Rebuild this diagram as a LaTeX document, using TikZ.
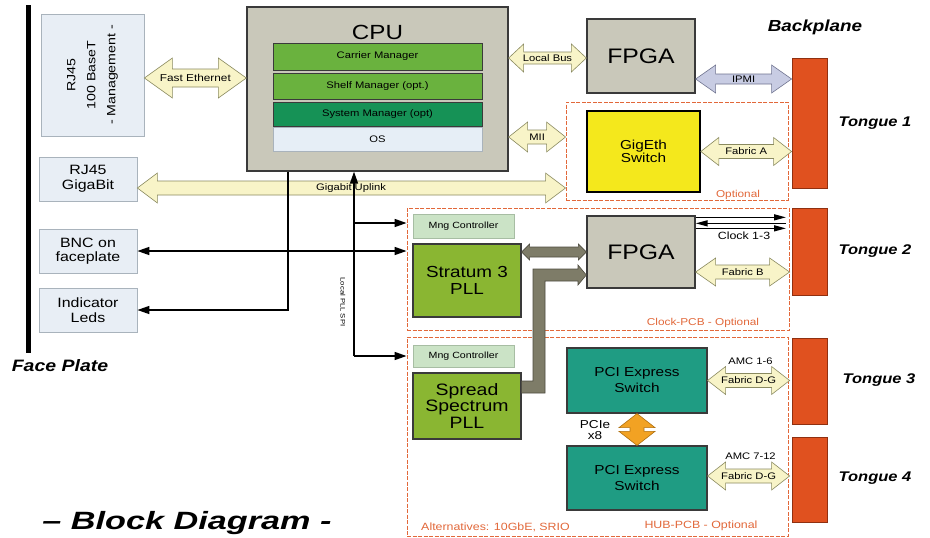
\documentclass[tikz,border=0pt]{standalone}
\usepackage{graphicx}
\usepackage{fontspec}
\setmainfont{Liberation Sans}[FakeStretch=1.18]
\usetikzlibrary{calc,arrows.meta}
\definecolor{lbfill}{HTML}{E8EEF5}
\definecolor{lbdraw}{HTML}{A9B3BC}
\definecolor{cpufill}{HTML}{C9C8BA}
\definecolor{cpudraw}{HTML}{3A3A3A}
\definecolor{carrierc}{HTML}{6AB23E}
\definecolor{systemc}{HTML}{169256}
\definecolor{osc}{HTML}{E6EEF6}
\definecolor{cream}{HTML}{F8F4C8}
\definecolor{creamd}{HTML}{8A8A60}
\definecolor{ipmic}{HTML}{C8CCE3}
\definecolor{ipmid}{HTML}{707490}
\definecolor{tonguec}{HTML}{E0511F}
\definecolor{tongued}{HTML}{903010}
\definecolor{dashc}{HTML}{E2683A}
\definecolor{yellowc}{HTML}{F4E81C}
\definecolor{olivec}{HTML}{8AB632}
\definecolor{mngc}{HTML}{CBE3C6}
\definecolor{mngd}{HTML}{A7BDA3}
\definecolor{tealc}{HTML}{1F9C83}
\definecolor{orangec}{HTML}{F2A223}
\definecolor{oranged}{HTML}{B07010}
\definecolor{bandc}{HTML}{7E7C68}
\definecolor{bandd}{HTML}{4E4C40}
\newcommand\fsz[2]{\fontsize{#1pt}{#2pt}\selectfont}
% horizontal double block arrow: #1 left, #2 right, #3 shaft half, #4 head half, #5 head length, #6 style, #7 label name, #8 label
\newcommand\harrow[8]{%
  \path[#6] let \p1=(#1), \p2=(#2) in
    (\x1,\y1) -- (\x1+#5pt,\y1+#4pt) -- (\x1+#5pt,\y1+#3pt) -- (\x2-#5pt,\y1+#3pt)
    -- (\x2-#5pt,\y1+#4pt) -- (\x2,\y1) -- (\x2-#5pt,\y1-#4pt) -- (\x2-#5pt,\y1-#3pt)
    -- (\x1+#5pt,\y1-#3pt) -- (\x1+#5pt,\y1-#4pt) -- cycle;
  \node[alab] (#7) at ($(#1)!0.5!(#2)$) {#8};}
% vertical double block arrow: #1 top, #2 bottom
\newcommand\varrow[6]{%
  \path[#6] let \p1=(#1), \p2=(#2) in
    (\x1,\y1) -- (\x1+#4pt,\y1-#5pt) -- (\x1+#3pt,\y1-#5pt) -- (\x1+#3pt,\y2+#5pt)
    -- (\x1+#4pt,\y2+#5pt) -- (\x1,\y2) -- (\x1-#4pt,\y2+#5pt) -- (\x1-#3pt,\y2+#5pt)
    -- (\x1-#3pt,\y1-#5pt) -- (\x1-#4pt,\y1-#5pt) -- cycle;}
\begin{document}
\begin{tikzpicture}[x=1pt,y=-1pt,
  box/.style={draw, inner sep=0pt, align=center, line width=0.8pt},
  lbox/.style={box, fill=lbfill, draw=lbdraw, font=\fsz{13.5}{14.5}},
  darkbox/.style={box, fill=cpufill, draw=cpudraw, line width=1.3pt},
  bar/.style={box, draw=cpudraw, line width=1pt, minimum width=209pt, font=\fsz{9.5}{10}},
  tongue/.style={box, fill=tonguec, draw=tongued, minimum width=35pt},
  dbox/.style={draw=dashc, line width=0.9pt, dash pattern=on 4pt off 1.5pt, inner sep=0pt},
  mng/.style={box, fill=mngc, draw=mngd, minimum width=101pt, font=\fsz{9}{9}},
  pll/.style={box, fill=olivec, draw=cpudraw, line width=1.2pt, minimum width=108pt, font=\fsz{16}{17}},
  teal/.style={box, fill=tealc, draw=cpudraw, line width=1.2pt, minimum width=140pt, font=\fsz{13}{16}},
  carrow/.style={fill=cream, draw=creamd, line width=0.6pt},
  alab/.style={inner sep=0pt, font=\fsz{9.5}{10}},
  olab/.style={inner sep=0pt, text=dashc, font=\fsz{10.5}{10.5}},
  title/.style={inner sep=0pt, font=\fsz{14}{14}\bfseries\itshape},
  wire/.style={line width=1.6pt, draw=black},
  cwire/.style={line width=1.4pt, draw=black},
  >={Triangle[length=12pt,width=8pt]}
]
\useasboundingbox[fill=white] (0,0) rectangle (930,538);

% face plate
\coordinate (fptop) at (28,5);
\coordinate (fpbot) at (28,353);
\draw[line width=5pt] (fptop) -- (fpbot);
\node[title, font=\fsz{16.5}{16.5}\bfseries\itshape] (fplab) at (60,366) {Face Plate};
\node[inner sep=0pt, font=\fsz{25}{25}\bfseries\itshape] (bdlab) at (187,523) {\scalebox{1.16}[1]{-- Block Diagram -}};

% left boxes
\node[lbox, minimum width=103pt, minimum height=122pt] (rj45m) at (92.5,75) {};
\node[inner sep=0pt, rotate=90, align=center, font=\fsz{12}{20}] (rj45mtxt) at (rj45m.center) {RJ45\\100 BaseT\\- Management -};
\node[lbox, minimum width=98pt, minimum height=44pt] (rj45g) at (88,179) {RJ45\\GigaBit};
\node[lbox, minimum width=98pt, minimum height=44pt] (bnc) at (88,251) {BNC on\\faceplate};
\node[lbox, minimum width=98pt, minimum height=44pt] (leds) at (88,310) {Indicator\\Leds};

% CPU
\node[darkbox, minimum width=261pt, minimum height=164pt] (cpu) at (377.5,89) {};
\node[inner sep=0pt, font=\fsz{20.5}{20.5}] (cputxt) at (377.5,32) {CPU};
\node[bar, fill=carrierc, minimum height=27pt] (carrier) at (377.5,56.5) {Carrier Manager};
\node[bar, fill=carrierc, minimum height=26pt] (shelf) at (377.5,86) {Shelf Manager (opt.)};
\node[bar, fill=systemc, minimum height=24pt] (system) at (377.5,114) {System Manager (opt)};
\node[bar, fill=osc, draw=lbdraw, line width=0.6pt, minimum height=24pt] (os) at (377.5,139) {OS};

% FPGA 1 and Tongue 1
\node[darkbox, minimum width=108pt, minimum height=74pt, font=\fsz{21}{21}] (fpga1) at (641,56) {FPGA};
\node[tongue, minimum height=130pt] (tongue1) at (809.5,123) {};
\node[title, font=\fsz{16}{16}\bfseries\itshape] (bplab) at (815,27) {Backplane};
\node[title] (t1lab) at (875,123) {Tongue 1};

% optional GigEth
\node[dbox, minimum width=222pt, minimum height=98pt] (opt1) at (677,151) {};
\node[olab, font=\fsz{10}{10}] (opt1lab) at (738,195) {Optional};
\node[box, fill=yellowc, draw=black, line width=1.6pt, minimum width=113pt, minimum height=81pt, font=\fsz{13}{13.5}] (gig) at (643.5,151.5) {GigEth\\Switch};

% Clock PCB
\node[dbox, minimum width=382pt, minimum height=122pt] (clk) at (598,269) {};
\node[olab, font=\fsz{10}{10}] (clklab) at (703,323) {Clock-PCB - Optional};
\node[mng, minimum height=24pt] (mng1) at (463.5,226) {Mng Controller};
\node[pll, minimum height=73pt] (stratum) at (467,280.5) {Stratum 3\\PLL};
\node[darkbox, minimum width=108pt, minimum height=72pt, font=\fsz{21}{21}] (fpga2) at (641,252) {FPGA};
\node[tongue, minimum height=87pt] (tongue2) at (809.5,251.5) {};
\node[title] (t2lab) at (875,251) {Tongue 2};

% HUB PCB
\node[dbox, minimum width=381pt, minimum height=199pt] (hub) at (597.5,436.5) {};
\node[olab] (altlab) at (495.5,527) {Alternatives: 10GbE, SRIO};
\node[olab] (hublab) at (701,526) {HUB-PCB - Optional};
\node[mng, minimum height=22pt] (mng2) at (463.5,356) {Mng Controller};
\node[pll, minimum height=66pt, font=\fsz{16.5}{16.7}] (ssp) at (467,406) {Spread\\Spectrum\\PLL};
\node[teal, minimum height=65pt] (pci1) at (637,380.5) {PCI Express\\Switch};
\node[teal, minimum height=64pt] (pci2) at (637,478) {PCI Express\\Switch};
\node[tongue, minimum height=86pt] (tongue3) at (809.5,381) {};
\node[tongue, minimum height=85pt] (tongue4) at (809.5,479.5) {};
\node[title] (t3lab) at (879,380) {Tongue 3};
\node[title] (t4lab) at (875,478) {Tongue 4};

% block arrows
\coordinate (fe1) at ([yshift=-3pt]rj45m.east);
\coordinate (fe2) at (cpu.west |- fe1);
\harrow{fe1}{fe2}{9}{20}{28}{carrow}{felab}{\fsz{10}{10}Fast Ethernet}

\coordinate (lb2) at ([yshift=-2pt]fpga1.west);
\coordinate (lb1) at (cpu.east |- lb2);
\harrow{lb1}{lb2}{6}{14}{15}{carrow}{lblab}{Local Bus}

\coordinate (ip1) at ([yshift=-23pt]fpga1.east);
\coordinate (ip2) at (tongue1.west |- ip1);
\harrow{ip1}{ip2}{5}{14}{20}{fill=ipmic, draw=ipmid, line width=0.6pt}{iplab}{IPMI}

\coordinate (mi1) at ([yshift=-48pt]cpu.east);
\coordinate (mi2) at (opt1.west |- mi1);
\harrow{mi1}{mi2}{7}{15}{19}{carrow}{milab}{MII}

\coordinate (gu1) at ([yshift=-9pt]rj45g.east);
\coordinate (gu2) at (opt1.west |- gu1);
\harrow{gu1}{gu2}{7}{15}{20}{carrow}{gulab0}{}
\node[alab] (gulab) at (351,188) {Gigabit Uplink};

\coordinate (fa1) at (gig.east);
\coordinate (fa2) at (tongue1.west |- fa1);
\harrow{fa1}{fa2}{7}{14}{18}{carrow}{falab}{Fabric A}

\coordinate (sf1) at (stratum.east |- fpga2.west);
\coordinate (sf2) at (fpga2.west);
\harrow{sf1}{sf2}{5}{8}{8}{fill=bandc, draw=bandd, line width=0.6pt}{sflab}{}

\coordinate (fb1) at ([yshift=-20pt]fpga2.east);
\coordinate (fb2) at ([xshift=-2pt]tongue2.west |- fb1);
\harrow{fb1}{fb2}{7}{14}{20}{carrow}{fblab}{Fabric B}

\coordinate (d1a) at (pci1.east);
\coordinate (d1b) at ([xshift=-2pt]tongue3.west |- d1a);
\harrow{d1a}{d1b}{7}{14}{18}{carrow}{d1lab}{Fabric D-G}
\node[alab] (amc1) at (750.5,361) {AMC 1-6};

\coordinate (d2a) at ([yshift=2pt]pci2.east);
\coordinate (d2b) at ([xshift=-2pt]tongue4.west |- d2a);
\harrow{d2a}{d2b}{7}{14}{18}{carrow}{d2lab}{Fabric D-G}
\node[alab] (amc2) at (750.5,456) {AMC 7-12};

\varrow{pci1.south}{pci2.north}{7}{18}{14}{fill=orangec, draw=oranged, line width=0.6pt}
\node[inner sep=0pt, align=center, font=\fsz{11.5}{11}] (pcielab) at (595,430) {PCIe\\x8};

% bent band from Spread Spectrum PLL to FPGA
\draw[fill=bandc, draw=bandd, line width=0.6pt]
  (ssp.east |- 0,381) -- (533,381) -- (533,269) -- (578,269) -- (578,265)
  -- (fpga2.west |- 0,275) -- (578,285) -- (578,281) -- (545,281) -- (545,393)
  -- (ssp.east |- 0,393) -- cycle;

% wires
\coordinate (ledx) at (288,0);
\draw[wire,->] (cpu.south -| ledx) |- (leds.east);
\coordinate (spix) at (354,0);
\draw[wire,->] (spix |- mng2.west) -- (spix |- cpu.south);
\draw[wire,->] ([yshift=3pt]spix |- mng1.west) -- ([yshift=3pt]clk.west |- mng1.west);
\draw[wire,->] (spix |- mng2.west) -- (hub.west |- mng2.west);
\draw[wire,<->] (bnc.east) -- (clk.west |- bnc.east);
\node[inner sep=0pt, rotate=-90, font=\fsz{6.5}{6.5}] (spilab) at (343,302) {Local PLL SPI};

% clock lines
\coordinate (clkx) at (786,0);
\coordinate (ck1) at ([yshift=-2pt]fpga2.north east);
\coordinate (ck2) at ([yshift=-8pt]fpga2.north east);
\coordinate (ck3) at ([yshift=-13pt]fpga2.north east);
\draw[cwire,-{Triangle[length=12pt,width=6pt]}] (ck1) -- (clkx |- ck1);
\draw[cwire,{Triangle[length=12pt,width=6pt]}-] (ck2) -- (clkx |- ck2);
\draw[cwire,-{Triangle[length=12pt,width=6pt]}] (ck3) -- (clkx |- ck3);
\node[inner sep=0pt, font=\fsz{10.5}{10.5}] (cklab) at (744,236) {Clock 1-3};
\end{tikzpicture}
\end{document}
